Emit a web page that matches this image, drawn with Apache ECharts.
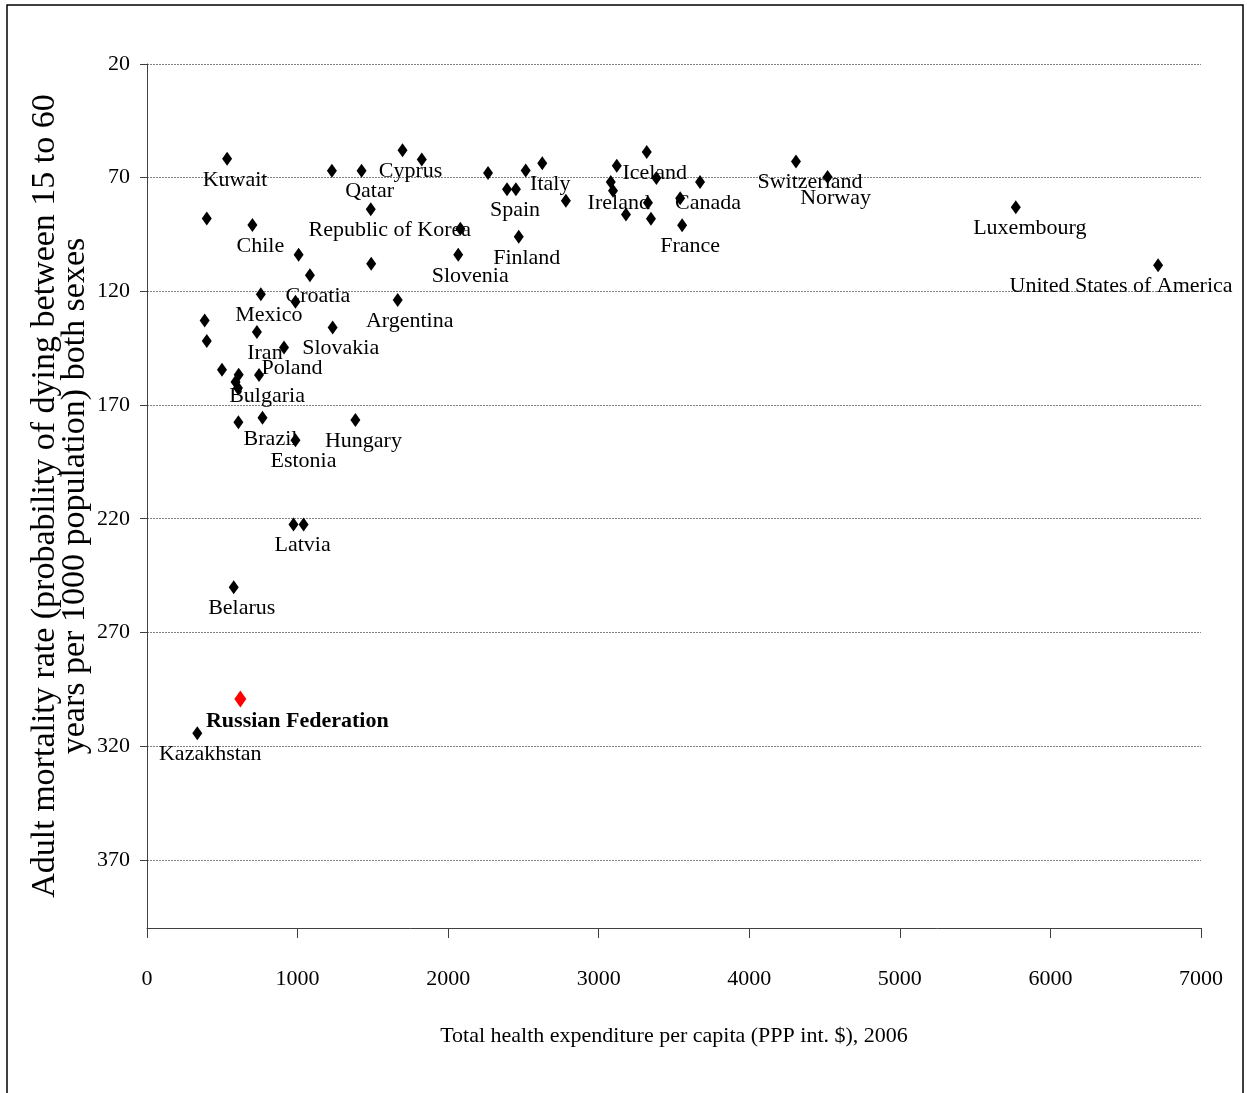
<!DOCTYPE html>
<html>
<head>
<meta charset="utf-8">
<script src="https://cdn.jsdelivr.net/npm/echarts@6/dist/echarts.min.js"></script>
<style>
    html, body { margin: 0; padding: 0; background: #fff; }
    #chartDiv { width: 1247px; height: 1093px; }
</style>
</head>
<body>
<div id="chartDiv"></div>
<script>
// country names ('' = point without a label in the original)
const countries = [
    '', 'Kuwait', 'Chile', '', 'Qatar', 'Cyprus', '', 'Republic of Korea', '', '',
    'Croatia', '', 'Slovenia', '', 'Spain', '', '', 'Italy', '', 'Finland',
    '', 'Ireland', '', 'Iceland', '', '', '', '', '', 'France',
    'Canada', 'Switzerland', 'Norway', 'Luxembourg', 'United States of America', 'Mexico', '', 'Argentina', '', '',
    'Iran', 'Slovakia', 'Poland', '', '', 'Bulgaria', '', '', 'Brazil', '',
    'Hungary', 'Estonia', '', 'Latvia', 'Belarus', 'Kazakhstan'
]
// total health expenditure per capita (PPP int. $), 2006
const spending = [
    397, 532, 700, 1228, 1425, 1697, 1825, 1486, 2081, 1007,
    1082, 1489, 2067, 2265, 2391, 2450, 2515, 2625, 2782, 2469,
    3120, 3080, 3095, 3319, 3383, 3181, 3327, 3347, 3541, 3554,
    3673, 4310, 4520, 5770, 6715, 756, 986, 1665, 383, 397,
    730, 1233, 910, 498, 609, 744, 588, 604, 767, 607,
    1384, 986, 973, 1040, 576, 334
]
// adult mortality rate per 1000, both sexes
const mortality = [
    87.9, 61.7, 90.8, 66.9, 66.9, 57.9, 62.0, 83.9, 92.5, 103.9,
    112.9, 107.9, 103.9, 67.9, 75.1, 75.1, 66.8, 63.7, 80.1, 96.0,
    64.7, 71.9, 75.7, 58.7, 70.1, 86.2, 81.0, 88.1, 79.1, 90.9,
    71.9, 62.9, 69.7, 83.0, 108.5, 121.3, 124.6, 123.8, 132.8, 141.8,
    137.9, 135.9, 144.7, 154.5, 156.7, 156.8, 159.9, 162.5, 175.6, 177.6,
    176.6, 185.5, 222.5, 222.5, 250.1, 314.4
]
const russiaName = 'Russian Federation'
const russiaSpending = 620
const russiaMortality = 299.3

const yTicks = [20, 70, 120, 170, 220, 270, 320, 370]

// label nudges (px), default is [8, 0]
const labelShift = {
    'Republic of Korea': [19, 0],
    'United States of America': [-37, 0],
    'Latvia': [-1, 0],
    'Switzerland': [14, 0],
    'Luxembourg': [14, 0],
    'Kazakhstan': [13, 0],
    'Slovenia': [12, 0],
    'Argentina': [12, 0]
}

const fontFam = "'Liberation Serif', 'Times New Roman', serif"

let points = countries.map((name, i) => {
    let item = { value: [spending[i], mortality[i]], name: name }
    if (name) {
        item.label = { show: true, formatter: name, offset: labelShift[name] || [8, 0] }
    }
    return item
})

let options = {
    animation: false,
    backgroundColor: '#fff',
    graphic: [{
        type: 'rect',
        shape: { x: 7, y: 5, width: 1236, height: 1110 },
        style: { fill: 'none', stroke: '#000', lineWidth: 1.5 },
        silent: true
    }],
    grid: { left: 147, right: 46, top: 64, bottom: 165 },
    xAxis: {
        type: 'value',
        min: 0,
        max: 7000,
        interval: 1000,
        name: 'Total health expenditure per capita (PPP int. $), 2006',
        nameLocation: 'middle',
        nameGap: 97,
        nameTextStyle: { fontFamily: fontFam, fontSize: 22, color: '#000' },
        axisLine: { show: true, onZero: false, lineStyle: { color: '#404040', width: 1 } },
        axisTick: { show: true, length: 10, lineStyle: { color: '#404040' } },
        axisLabel: { fontFamily: fontFam, fontSize: 22, color: '#000', margin: 40, formatter: v => String(v) },
        splitLine: { show: false }
    },
    yAxis: {
        type: 'value',
        inverse: true,
        min: 20,
        max: 400,
        interval: 50,
        name: 'Adult mortality rate (probability of dying between 15 to 60\nyears per 1000 population) both sexes',
        nameLocation: 'middle',
        nameRotate: 90,
        nameGap: 57,
        nameMoveOverlap: false,
        nameTextStyle: { fontFamily: fontFam, fontSize: 34, lineHeight: 30, color: '#000' },
        axisLine: { show: true, lineStyle: { color: '#404040', width: 1 } },
        axisTick: { show: true, length: 7, customValues: yTicks, lineStyle: { color: '#404040' } },
        axisLabel: {
            fontFamily: fontFam, fontSize: 22, color: '#000', margin: 17,
            customValues: yTicks,
            formatter: v => yTicks.includes(v) ? String(v) : ''
        },
        splitLine: { show: true, lineStyle: { color: '#808080', width: 1, type: [2, 1] } }
    },
    series: [
        {
            type: 'scatter',
            symbol: 'diamond',
            symbolSize: [10, 14],
            itemStyle: { color: '#000', opacity: 1 },
            label: {
                show: false,
                position: 'bottom',
                distance: 3,
                fontFamily: fontFam,
                fontSize: 22,
                color: '#000'
            },
            data: points
        },
        {
            type: 'scatter',
            symbol: 'diamond',
            symbolSize: [12, 17],
            itemStyle: { color: '#ff0000', opacity: 1 },
            label: {
                show: true,
                position: 'bottom',
                distance: 3,
                offset: [57, 0],
                formatter: russiaName,
                fontFamily: fontFam,
                fontSize: 22,
                fontWeight: 'bold',
                color: '#000'
            },
            data: [{ value: [russiaSpending, russiaMortality], name: russiaName }]
        }
    ]
}

let chartContainer = document.getElementById('chartDiv')
let myChart = echarts.init(chartContainer)
options && myChart.setOption(options)
</script>
</body>
</html>
